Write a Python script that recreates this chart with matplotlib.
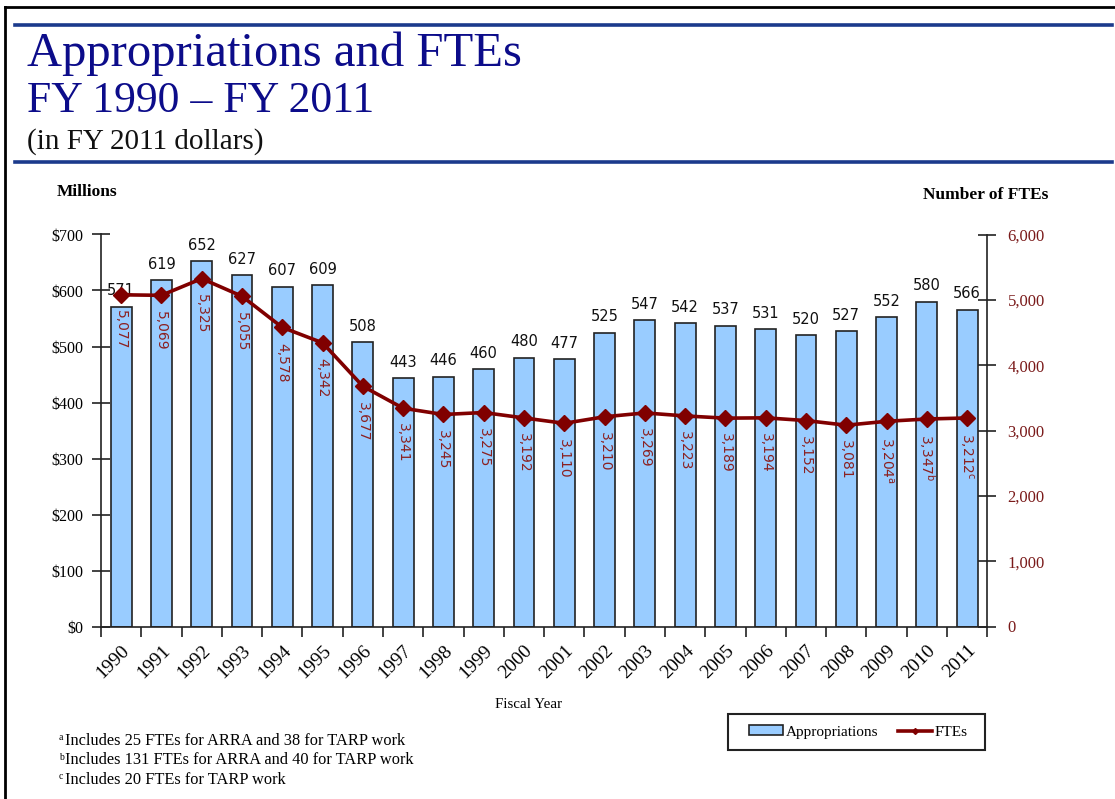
import matplotlib
matplotlib.use("Agg")
import matplotlib.pyplot as plt
from matplotlib.lines import Line2D
from matplotlib.patches import Rectangle
from matplotlib.ticker import FuncFormatter, FixedLocator
from matplotlib.transforms import ScaledTranslation

years = [str(y) for y in range(1990, 2012)]
appropriations = [571, 619, 652, 627, 607, 609, 508, 443, 446, 460, 480, 477,
                  525, 547, 542, 537, 531, 520, 527, 552, 580, 566]
fte_plotted = [5077, 5069, 5325, 5055, 4578, 4342, 3677, 3341, 3245, 3275, 3192, 3110,
               3210, 3269, 3223, 3189, 3194, 3152, 3081, 3141, 3176, 3192]
fte_labels = ["5,077", "5,069", "5,325", "5,055", "4,578", "4,342", "3,677", "3,341",
              "3,245", "3,275", "3,192", "3,110", "3,210", "3,269", "3,223", "3,189",
              "3,194", "3,152", "3,081", r"3,204$^{\mathrm{a}}$", r"3,347$^{\mathrm{b}}$",
              r"3,212$^{\mathrm{c}}$"]
footnotes = [("a", "Includes 25 FTEs for ARRA and 38 for TARP work"),
             ("b", "Includes 131 FTEs for ARRA and 40 for TARP work"),
             ("c", "Includes 20 FTEs for TARP work")]

SERIF = ["Liberation Serif", "DejaVu Serif"]
SANS = ["DejaVu Sans"]
plt.rcParams["mathtext.fontset"] = "dejavusans"

W, H = 1115, 799
fig = plt.figure(figsize=(W / 100, H / 100), dpi=100)
fig.patch.set_facecolor("white")

def fx(px):
    return px / W

def fy(py):
    return 1 - py / H

# page frame lines (left & top)
fig.add_artist(Line2D([fx(5), fx(5)], [fy(7), 0], transform=fig.transFigure, color="black", lw=2))
fig.add_artist(Line2D([fx(5), 1], [fy(7), fy(7)], transform=fig.transFigure, color="black", lw=2))
# blue rules
rule_c = "#1B3A8C"
fig.add_artist(Line2D([fx(15), fx(1112)], [fy(25), fy(25)], transform=fig.transFigure, color=rule_c, lw=2.6))
fig.add_artist(Line2D([fx(15), fx(1112)], [fy(162), fy(162)], transform=fig.transFigure, color=rule_c, lw=2.6))

title_c = "#0C0C8A"
fig.text(fx(27), fy(66), "Appropriations and FTEs", family=SERIF, fontsize=35, color=title_c, va="baseline")
fig.text(fx(27), fy(112), "FY 1990 \u2013 FY 2011", family=SERIF, fontsize=31.5, color=title_c, va="baseline")
fig.text(fx(27), fy(149), "(in FY 2011 dollars)", family=SERIF, fontsize=21, color="#111111", va="baseline")

fig.text(fx(57), fy(192), "Millions", family=SERIF, fontsize=12.5, weight="bold", va="center")
fig.text(fx(1048), fy(195), "Number of FTEs", family=SERIF, fontsize=12.5, weight="bold", va="center", ha="right")

ax = fig.add_axes([fx(101), fy(626.5), fx(987.3 - 101), (626.5 - 234.5) / H])
x = list(range(len(years)))
ax.bar(x, appropriations, width=0.52, color="#99CCFF", edgecolor="#222222", linewidth=1.2, zorder=2)
ax.set_xlim(-0.5, len(years) - 0.5)
ax.set_ylim(0, 700)
ax.set_yticks(range(0, 701, 100))
ax.yaxis.set_major_formatter(FuncFormatter(lambda v, p: f"${int(v)}"))
ax.xaxis.set_major_locator(FixedLocator([i - 0.5 for i in range(len(years) + 1)]))
ax.xaxis.set_major_formatter(FuncFormatter(lambda v, p: ""))
ax.xaxis.set_minor_locator(FixedLocator(x))
ax.set_xticklabels(years, minor=True, rotation=45, ha="right", rotation_mode="anchor",
                   family=SERIF, fontsize=14)
shift = ScaledTranslation(-0.11, 0, fig.dpi_scale_trans)
for lab in ax.get_xticklabels(minor=True):
    lab.set_transform(lab.get_transform() + shift)
ax.tick_params(axis="x", which="major", direction="out", length=7, width=1.2, color="#222222")
ax.tick_params(axis="x", which="minor", length=0, pad=11)
ax.tick_params(axis="y", direction="inout", length=13, width=1.2, color="#222222", labelsize=11.5, pad=6)
for lab in ax.get_yticklabels():
    lab.set_family(SERIF)
for s in ["top", "right"]:
    ax.spines[s].set_visible(False)
for s in ["left", "bottom"]:
    ax.spines[s].set_color("#222222")
    ax.spines[s].set_linewidth(1.2)

for xi, v in zip(x, appropriations):
    ax.annotate(str(v), (xi, v), xytext=(0, 6), textcoords="offset points", ha="center", va="bottom",
                family=SANS, fontsize=10.5, color="#111111", zorder=5)

ax2 = ax.twinx()
ax2.set_ylim(0, 6000)
ax2.set_yticks(range(0, 6001, 1000))
ax2.yaxis.set_major_formatter(FuncFormatter(lambda v, p: f"{int(v):,}"))
line_c = "#800000"
ax2.plot(x, fte_plotted, color=line_c, lw=2.6, marker="D", markersize=8, zorder=4)
ax2.tick_params(axis="y", direction="inout", length=13, width=1.2, color="#222222", labelsize=12,
                labelcolor="#7A1A1A", pad=8)
for lab in ax2.get_yticklabels():
    lab.set_family(SERIF)
for s in ["top", "left", "bottom"]:
    ax2.spines[s].set_visible(False)
ax2.spines["right"].set_color("#222222")
ax2.spines["right"].set_linewidth(1.2)

for xi, v, lab in zip(x, fte_plotted, fte_labels):
    ax2.annotate(lab, (xi, v), xytext=(0, -11), textcoords="offset points", ha="center", va="top",
                 rotation=270, family=SANS, fontsize=10, color="#8B2020", zorder=5)

fig.text(fx(529), fy(704), "Fiscal Year", family=SERIF, fontsize=10.8, ha="center", va="center")

# legend
fig.add_artist(Rectangle((fx(728), fy(750)), fx(985 - 728), (750 - 714) / H, transform=fig.transFigure,
                         facecolor="white", edgecolor="#222222", linewidth=1.5, zorder=3))
handles = [Rectangle((0, 0), 1, 1, facecolor="#99CCFF", edgecolor="#222222", linewidth=1.2),
           Line2D([], [], color=line_c, lw=2.6, marker="D", markersize=3)]
leg = fig.legend(handles, ["Appropriations", "FTEs"], loc="center left",
                 bbox_to_anchor=(fx(749), fy(732)), ncol=2, frameon=False,
                 prop={"family": SERIF, "size": 11}, handlelength=2.2, handleheight=0.55,
                 handletextpad=0.2, columnspacing=1.3, borderpad=0, borderaxespad=0)
leg.set_zorder(4)

for i, (sup, txt) in enumerate(footnotes):
    yy = fy(741 + i * 19.5)
    fig.text(fx(59), yy + 0.004, sup, family=SERIF, fontsize=7, va="center")
    fig.text(fx(65), yy, txt, family=SERIF, fontsize=11.8, va="center")

fig.savefig("out.png", dpi=100)
